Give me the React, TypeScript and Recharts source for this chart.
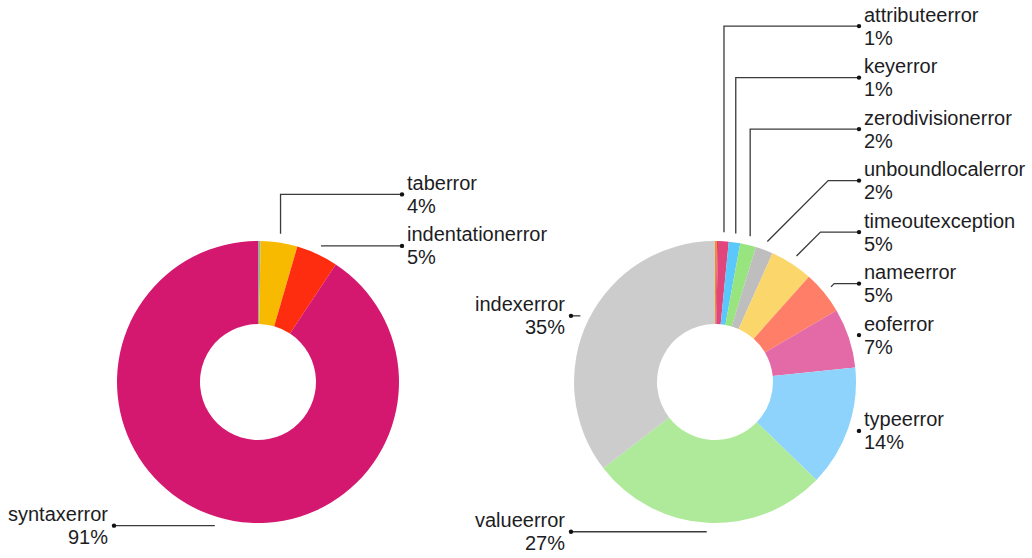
import React from 'react';
import { PieChart, Pie, Cell } from 'recharts';

// left donut: syntax-type errors
const leftNames = ['other', 'taberror', 'indentationerror', 'syntaxerror'];
const leftValues = [0.3, 4.2, 4.8, 90.7];
const leftColors = ['#9aab9f', '#f8ba00', '#ff2d0f', '#d4186f'];

// right donut: runtime errors
const rightNames = [
  'other', 'other', 'attributeerror', 'keyerror', 'zerodivisionerror', 'unboundlocalerror',
  'timeoutexception', 'nameerror', 'eoferror', 'typeerror', 'valueerror', 'indexerror',
];
const rightValues = [0.2, 0.15, 1.2, 1.3, 1.8, 2.0, 4.9, 4.9, 6.8, 13.8, 27.2, 35.3];
const rightColors = [
  '#f08a2d', '#e8413a', '#e0457b', '#5ac8fa', '#98e47f', '#bebebe',
  '#fad66b', '#ff7e67', '#e46aa7', '#8dd3fb', '#afea9b', '#cccccc',
];

const RAD = Math.PI / 180;
const OUTER = 141;
const INNER = 58;
const LABEL_GAP = 51.5;
const COL = 144;
const FONT = '"Liberation Sans", Arial, Helvetica, sans-serif';

const toData = (names: string[], values: number[]) =>
  names.map((name, i) => ({ name, value: values[i] }));

// label y positions: start level with the slice, then push up so labels don't overlap
function layoutLabels(values: number[], cy: number, r: number) {
  const total = values.reduce((s, v) => s + v, 0);
  let acc = 0;
  const items = values.map((v, i) => {
    const mid = 90 - (360 * (acc + v / 2)) / total;
    acc += v;
    return {
      i,
      y: cy - r * Math.sin(mid * RAD),
      right: Math.cos(mid * RAD) >= 0,
      show: v / total >= 0.005,
    };
  });
  const out: Record<number, number> = {};
  [true, false].forEach((side) => {
    const group = items.filter((d) => d.show && d.right === side).sort((a, b) => a.y - b.y);
    for (let k = group.length - 2; k >= 0; k--) {
      group[k].y = Math.min(group[k].y, group[k + 1].y - LABEL_GAP);
    }
    group.forEach((d) => (out[d.i] = d.y));
  });
  return out;
}

const makeLabel = (labelY: Record<number, number>) => (props: any) => {
  const { cx, cy, midAngle, outerRadius, percent, index, name } = props;
  const y = labelY[index];
  if (y === undefined) return null;
  const a = -midAngle * RAD;
  const r = outerRadius + 9;
  const ax = cx + r * Math.cos(a);
  const ay = cy + r * Math.sin(a);
  const right = Math.cos(a) >= 0;
  const lx = right ? cx + COL : cx - COL;
  const dy = Math.abs(y - ay);
  let ex = ax;
  if (Math.abs(Math.cos(a)) > 0.26) {
    ex = right ? Math.min(ax + dy, lx) : Math.max(ax - dy, lx);
  }
  const tx = right ? lx + 5 : lx - 6;
  return (
    <g>
      <path
        d={`M${ax},${ay}L${ex},${y}L${lx},${y}`}
        fill="none"
        stroke="#3a3a3a"
        strokeWidth={1.3}
      />
      <circle cx={lx} cy={y} r={2.2} fill="#111" />
      <text
        x={tx}
        y={y - 4.5}
        textAnchor={right ? 'start' : 'end'}
        fontSize={20}
        fontFamily={FONT}
        fill="#1d1d1f"
      >
        <tspan x={tx}>{name}</tspan>
        <tspan x={tx} dy={23}>{`${Math.round(percent * 100)}%`}</tspan>
      </text>
    </g>
  );
};

export default function App() {
  const leftCx = 258;
  const rightCx = 715;
  const cy = 382;
  const leftLabels = layoutLabels(leftValues, cy, OUTER + 9);
  const rightLabels = layoutLabels(rightValues, cy, OUTER + 9);

  return (
    <div style={{ position: 'absolute', left: 0, top: 0, background: '#fff' }}>
      <PieChart width={1032} height={558} margin={{ top: 0, right: 0, bottom: 0, left: 0 }}>
        <Pie
          data={toData(leftNames, leftValues)}
          dataKey="value"
          nameKey="name"
          cx={leftCx}
          cy={cy}
          innerRadius={INNER}
          outerRadius={OUTER}
          startAngle={90}
          endAngle={-270}
          stroke="none"
          label={makeLabel(leftLabels)}
          labelLine={false}
          isAnimationActive={false}
        >
          {leftColors.map((c, i) => (
            <Cell key={i} fill={c} />
          ))}
        </Pie>
        <Pie
          data={toData(rightNames, rightValues)}
          dataKey="value"
          nameKey="name"
          cx={rightCx}
          cy={cy}
          innerRadius={INNER}
          outerRadius={OUTER}
          startAngle={90}
          endAngle={-270}
          stroke="none"
          label={makeLabel(rightLabels)}
          labelLine={false}
          isAnimationActive={false}
        >
          {rightColors.map((c, i) => (
            <Cell key={i} fill={c} />
          ))}
        </Pie>
      </PieChart>
    </div>
  );
}
